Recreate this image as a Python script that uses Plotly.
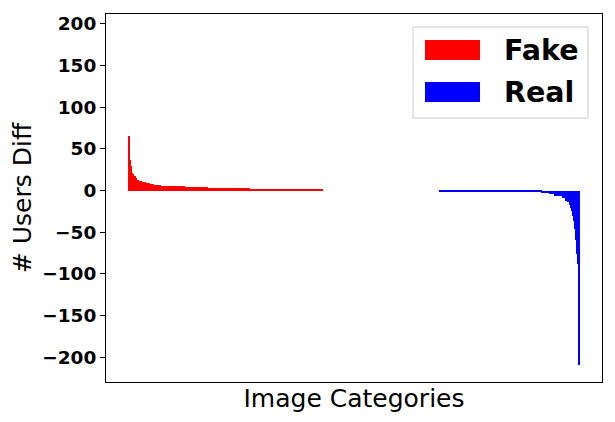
import plotly.graph_objects as go

# Fake image categories (positive diff): value and number of categories with that value
fake_values = [65, 37, 29, 21, 20, 18, 17, 15, 13, 11, 10, 9, 8, 7, 5, 4, 3, 1]
fake_counts = [1, 1, 1, 1, 1, 1, 1, 1, 2, 3, 4, 4, 4, 7, 24, 23, 42, 73]

# Categories with no difference
zero_count = 117

# Real image categories (negative diff)
real_values = [-1, -2, -3, -4, -6, -7, -9, -12, -14, -18, -21, -25, -31, -37, -46, -59, -76, -88, -210]
real_counts = [91, 11, 8, 5, 4, 4, 3, 2, 2, 1, 1, 1, 1, 1, 1, 1, 1, 1, 1]

y_ticks = [200, 150, 100, 50, 0, -50, -100, -150, -200]

def expand(vals, counts):
    out = []
    for v, c in zip(vals, counts):
        out += [v] * c
    return out

fake = expand(fake_values, fake_counts) + [0] * zero_count
real = expand(real_values, real_counts)
x_fake = list(range(len(fake)))
x_real = list(range(len(fake), len(fake) + len(real)))
n = len(fake) + len(real)

font = "DejaVu Sans"
fig = go.Figure()
fig.add_trace(go.Bar(x=x_fake, y=fake, name="Fake", marker=dict(color="#ff0000", line=dict(width=0)), width=1))
fig.add_trace(go.Bar(x=x_real, y=real, name="Real", marker=dict(color="#0000ff", line=dict(width=0)), width=1))

# page body has an 8px margin; compensate so the plot area lands at x 106-602, y 14-382
OFF = 8
L, R, T, B = 106, 602, 14, 382
W, H = 615 - OFF, 422 - OFF

ext = (n - 1 + 0.8)
pad = 0.05 * ext
fig.update_layout(
    width=W, height=H,
    margin=dict(l=L - OFF, r=W + OFF - R, t=T - OFF, b=H + OFF - B, autoexpand=False),
    paper_bgcolor="white", plot_bgcolor="white",
    bargap=0, barmode="overlay", showlegend=False,
    font=dict(family=font, color="black"),
    xaxis=dict(range=[-0.4 - pad, n - 1 + 0.4 + pad], showticklabels=False, ticks="",
               showgrid=False, zeroline=False, showline=True, linecolor="black", linewidth=1, mirror=True,
               title=dict(text="Image Categories", font=dict(size=25, family=font), standoff=7)),
    yaxis=dict(range=[-230, 212], tickvals=y_ticks, ticks="outside", ticklen=5, tickcolor="black",
               tickfont=dict(size=18.5, family=font, weight="bold"),
               showgrid=False, zeroline=False, showline=True, linecolor="black", linewidth=1, mirror=True,
               title=dict(text="# Users Diff", font=dict(size=25, family=font), standoff=7)),
)

# Legend drawn manually (matplotlib-style large patches), positions in page pixels
def px(x):
    return (x - L) / (R - L)
def py(y):
    return (B - y) / (B - T)

fig.add_shape(type="rect", xref="paper", yref="paper", x0=px(413), x1=px(588), y0=py(118), y1=py(27),
              line=dict(color="#cccccc", width=1), fillcolor="rgba(255,255,255,0.8)")
fig.add_shape(type="rect", xref="paper", yref="paper", x0=px(425), x1=px(480), y0=py(60), y1=py(40),
              line=dict(width=0), fillcolor="#ff0000")
fig.add_shape(type="rect", xref="paper", yref="paper", x0=px(425), x1=px(480), y0=py(102), y1=py(82),
              line=dict(width=0), fillcolor="#0000ff")
for label, yc in [("Fake", 50), ("Real", 92)]:
    fig.add_annotation(xref="paper", yref="paper", x=px(502), y=py(yc), text=label, showarrow=False,
                       xanchor="left", yanchor="middle",
                       font=dict(size=28.5, family=font, weight="bold", color="black"))

fig.write_html("out.html")
